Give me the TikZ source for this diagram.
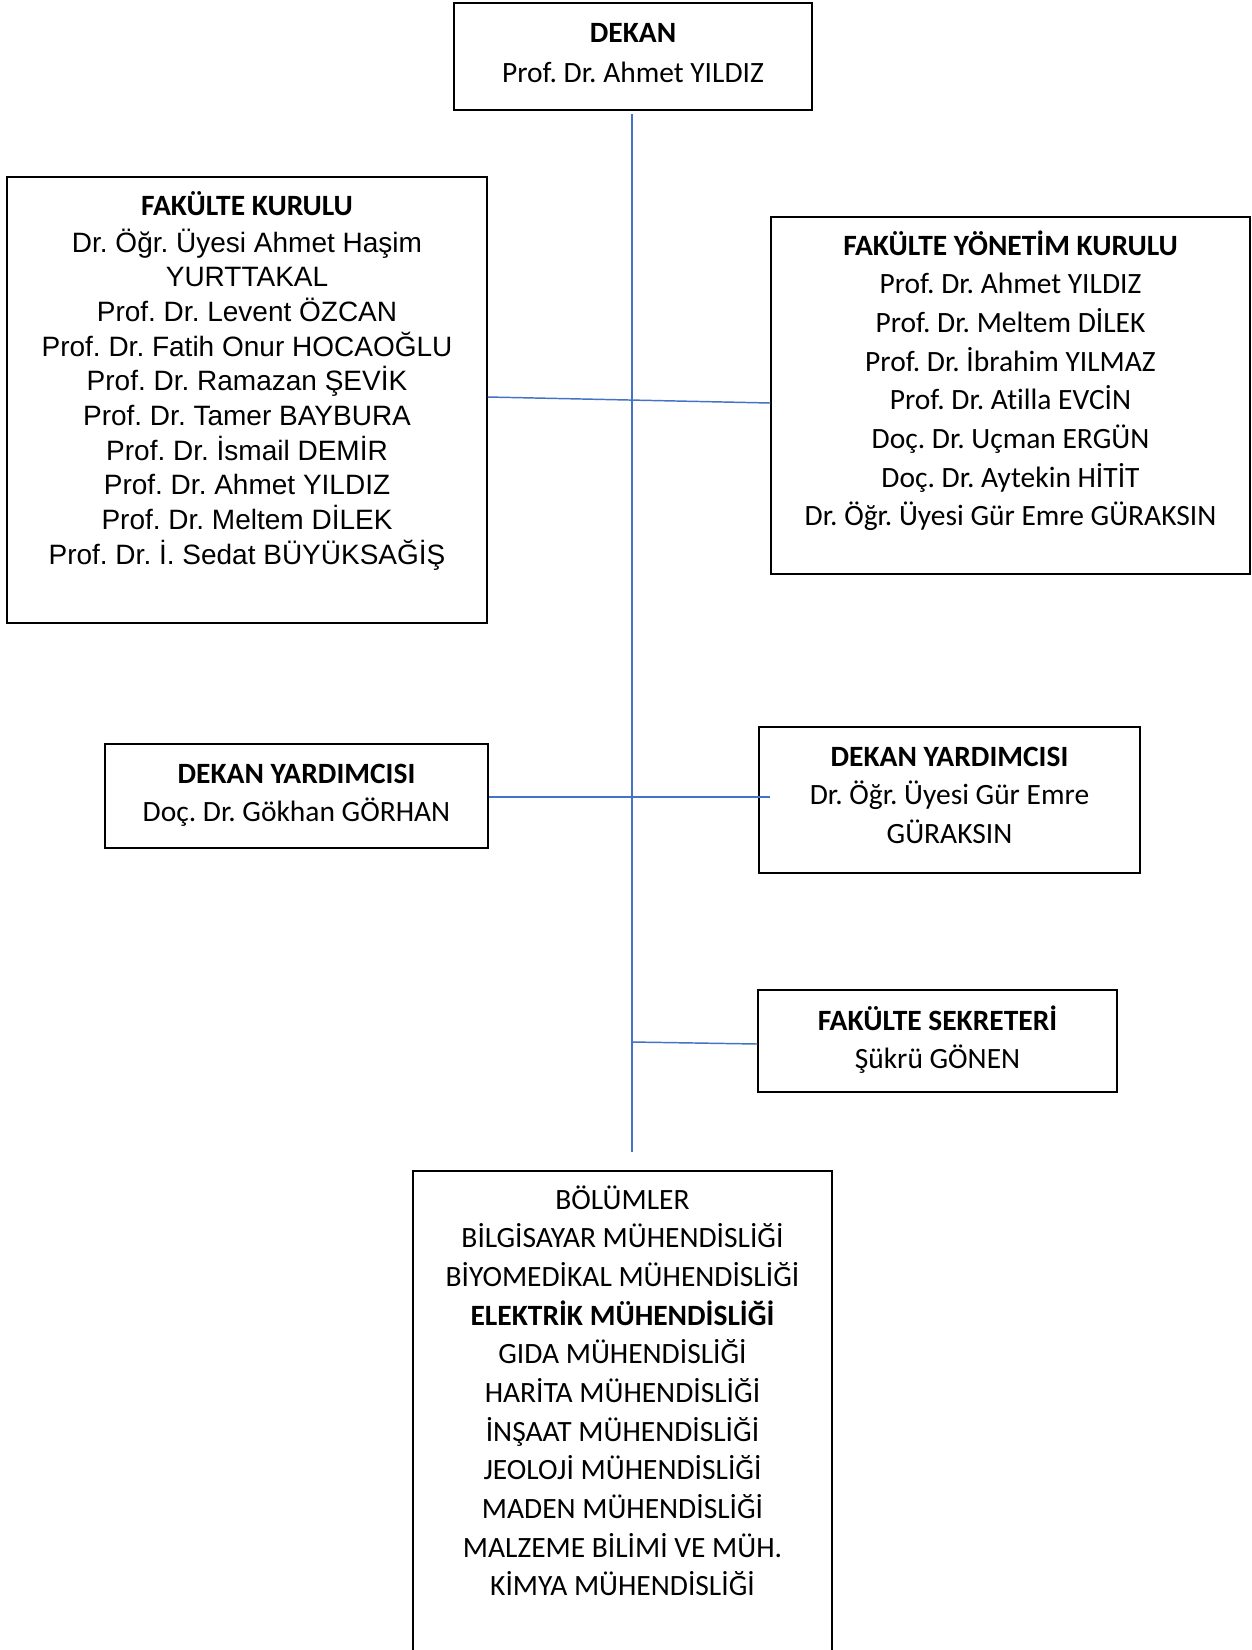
\documentclass[tikz,border=0pt]{standalone}
\usepackage{fontspec}
\setmainfont{Carlito}[Ligatures=NoCommon]
\newfontfamily\arialf{Liberation Sans}
\usetikzlibrary{calc}
\definecolor{accent}{HTML}{4472C4}
\frenchspacing
\newcommand\tstrut{\rule{0pt}{20pt}}
\newcommand\bx[5]{\node[box, minimum width={(#4-#2)*0.75pt}, minimum height={(#5-#3)*0.75pt}] (#1) at ({(#2+#4)/2},{(#3+#5)/2}) {};}
\begin{document}
\begin{tikzpicture}[x=0.75pt,y=-0.75pt,
  box/.style={draw=black, line width=1pt, inner sep=0pt},
  txt/.style={anchor=north, yshift=20pt, inner sep=0pt, align=center, font=\frenchspacing\fontsize{22.1}{29}\selectfont},
  ari/.style={anchor=north, yshift=20pt, inner sep=0pt, align=center, font=\frenchspacing\arialf\fontsize{21}{26}\selectfont},
  conn/.style={draw=accent, line width=1.1pt}]
\useasboundingbox (0,0) rectangle (1252,1650);
\clip (0,0) rectangle (1252,1650);
% boxes
\bx{dekan}{454}{3}{812}{110}
\bx{fk}{7}{177}{487}{623}
\bx{fyk}{771}{217}{1250}{574}
\bx{ldy}{105}{744}{488}{848}
\bx{rdy}{759}{727}{1140}{873}
\bx{fs}{758}{990}{1117}{1092}
\bx{bol}{413}{1171}{832}{1665}
% texts
\node[txt] (dekant) at (633,42) {\tstrut\textbf{DEKAN}\\[1pt]Prof. Dr. Ahmet YILDIZ};
\node[txt] (fkt) at (247,215) {\tstrut\textbf{FAKÜLTE KURULU}};
\node[ari] (fkl) at (247,252) {\tstrut Dr. Öğr. Üyesi Ahmet Haşim\\YURTTAKAL\\Prof. Dr. Levent ÖZCAN\\Prof. Dr. Fatih Onur HOCAOĞLU\\Prof. Dr. Ramazan ŞEVİK\\Prof. Dr. Tamer BAYBURA\\Prof. Dr. İsmail DEMİR\\Prof. Dr. Ahmet YILDIZ\\Prof. Dr. Meltem DİLEK\\Prof. Dr. İ. Sedat BÜYÜKSAĞİŞ};
\node[txt] (fykt) at (1010.5,255) {\tstrut\textbf{FAKÜLTE YÖNETİM KURULU}\\Prof. Dr. Ahmet YILDIZ\\Prof. Dr. Meltem DİLEK\\Prof. Dr. İbrahim YILMAZ\\Prof. Dr. Atilla EVCİN\\Doç. Dr. Uçman ERGÜN\\Doç. Dr. Aytekin HİTİT\\Dr. Öğr. Üyesi Gür Emre GÜRAKSIN};
\node[txt] (ldyt) at (296.5,783) {\tstrut\textbf{DEKAN YARDIMCISI}\\[-0.5pt]Doç. Dr. Gökhan GÖRHAN};
\node[txt] (rdyt) at (949.5,766) {\tstrut\textbf{DEKAN YARDIMCISI}\\Dr. Öğr. Üyesi Gür Emre\\GÜRAKSIN};
\node[txt] (fst) at (937.5,1030) {\tstrut\textbf{FAKÜLTE SEKRETERİ}\\[-0.5pt]Şükrü GÖNEN};
\node[txt] (bolt) at (622.5,1209) {\tstrut BÖLÜMLER\\BİLGİSAYAR MÜHENDİSLİĞİ\\BİYOMEDİKAL MÜHENDİSLİĞİ\\\textbf{ELEKTRİK MÜHENDİSLİĞİ}\\GIDA MÜHENDİSLİĞİ\\HARİTA MÜHENDİSLİĞİ\\İNŞAAT MÜHENDİSLİĞİ\\JEOLOJİ MÜHENDİSLİĞİ\\MADEN MÜHENDİSLİĞİ\\MALZEME BİLİMİ VE MÜH.\\KİMYA MÜHENDİSLİĞİ};
% connectors
\coordinate (vtop) at (632,114);
\coordinate (vbot) at (632,1152);
\draw[conn] (vtop) -- (vbot);
\draw[conn] ($(fk.east)+(0,-3)$) -- ($(fyk.west)+(0,7.5)$);
\draw[conn] ($(ldy.east)+(0,1)$) -- ($(rdy.west)+(12,-3)$);
\draw[conn] ($(vtop|-fs.west)+(0,1)$) -- ($(fs.west)+(0,3)$);
\end{tikzpicture}
\end{document}
